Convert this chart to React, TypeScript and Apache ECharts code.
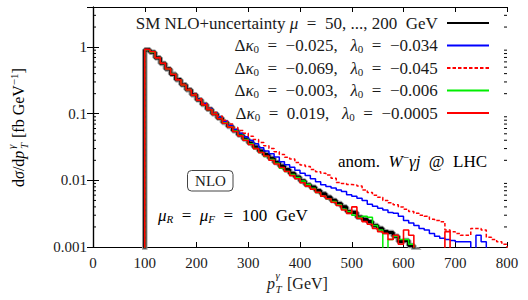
import React, { useEffect, useRef } from "react";
import * as echarts from "echarts";

// ---- data ----
const BIN_START = 100; // GeV, left edge of first bin
const BIN_WIDTH = 10; // GeV
const FLOOR = 0.0001; // below the axis minimum (empty bin)

const xTicks = [0, 100, 200, 300, 400, 500, 600, 700, 800];
const yTickLabels = ["0.001", "0.01", "0.1", "1"];
const yMinorTicks = [
  0.002, 0.003, 0.004, 0.005, 0.006, 0.007, 0.008, 0.009,
  0.02, 0.03, 0.04, 0.05, 0.06, 0.07, 0.08, 0.09,
  0.2, 0.3, 0.4, 0.5, 0.6, 0.7, 0.8, 0.9,
  2, 3,
];

// SM NLO + uncertainty (bins 100..620)
const smValues = [
  0.91, 0.84, 0.69, 0.57, 0.47, 0.39, 0.325, 0.272, 0.229, 0.193,
  0.162, 0.138, 0.117, 0.1, 0.086, 0.074, 0.0646, 0.0556, 0.048, 0.0417,
  0.0363, 0.0316, 0.0275, 0.0243, 0.0214, 0.0186, 0.0164, 0.0145, 0.0127, 0.0112,
  0.0098, 0.0086, 0.0079, 0.007, 0.0063, 0.0056, 0.005, 0.0045, 0.004, 0.0034,
  0.0033, 0.0028, 0.0026, 0.0024, 0.0021, 0.0019, 0.0017, 0.00165, 0.00145, 0.0012,
  0.00125, 0.00105, 0.0009,
];
// Δκ0 = −0.025, λ0 = −0.034 (bins 100..750)
const blueValues = [
  0.91, 0.84, 0.69, 0.57, 0.47, 0.39, 0.325, 0.272, 0.23, 0.195,
  0.165, 0.141, 0.12, 0.103, 0.089, 0.077, 0.066, 0.058, 0.051, 0.045,
  0.04, 0.0355, 0.031, 0.0275, 0.025, 0.0225, 0.019, 0.0172, 0.0158, 0.0142,
  0.0128, 0.0118, 0.0106, 0.0095, 0.0086, 0.0081, 0.0077, 0.0072, 0.0068, 0.0061,
  0.0058, 0.0054, 0.005, 0.0044, 0.0041, 0.0038, 0.0036, 0.0033, 0.0032, 0.0029,
  0.0025, 0.0023, 0.0021, 0.0019, 0.0018, 0.0016, 0.00145, 0.00135, 0.0013, 0.00125,
  0.0012, 0.0012, 0.0012, 0.0005, 0.0015, 0.0012,
];
// Δκ0 = −0.069, λ0 = −0.045 (bins 100..790)
const redDashValues = [
  0.92, 0.85, 0.7, 0.58, 0.48, 0.395, 0.33, 0.277, 0.234, 0.198,
  0.168, 0.143, 0.122, 0.104, 0.092, 0.08, 0.07, 0.062, 0.056, 0.051,
  0.046, 0.041, 0.037, 0.033, 0.03, 0.027, 0.0245, 0.0222, 0.021, 0.0185,
  0.017, 0.0162, 0.0146, 0.0135, 0.0128, 0.012, 0.0108, 0.0093, 0.009, 0.0087,
  0.0085, 0.0082, 0.0072, 0.0066, 0.006, 0.0056, 0.005, 0.0046, 0.0043, 0.004,
  0.0037, 0.0034, 0.0032, 0.003, 0.0029, 0.0026, 0.0025, 0.0024, 0.0018, 0.0017,
  0.0016, 0.0015, 0.0015, 0.0019, 0.0019, 0.0018, 0.0014, 0.0013, 0.0012, 0.0011,
];
// Δκ0 = −0.003, λ0 = −0.006 (bins 100..620)
const greenValues = [
  0.91, 0.84, 0.69, 0.57, 0.47, 0.39, 0.325, 0.27, 0.228, 0.192,
  0.161, 0.137, 0.116, 0.099, 0.085, 0.073, 0.064, 0.055, 0.0475, 0.0412,
  0.0355, 0.03, 0.0262, 0.0228, 0.0205, 0.018, 0.0152, 0.0136, 0.0123, 0.011,
  0.0098, 0.0087, 0.0076, 0.0066, 0.0058, 0.0053, 0.0048, 0.0043, 0.0037, 0.0034,
  0.003, 0.0028, 0.0029, 0.0028, 0.0021, 0.0018, 0.0009, 0.0013, 0.00145, 0.0013,
  0.0013, 0.0011, 0.0009,
];
// Δκ0 = 0.019, λ0 = −0.0005 (bins 100..690)
const redValues = [
  0.92, 0.85, 0.69, 0.57, 0.47, 0.39, 0.322, 0.27, 0.227, 0.19,
  0.16, 0.136, 0.115, 0.098, 0.084, 0.072, 0.063, 0.054, 0.0465, 0.04,
  0.0345, 0.03, 0.0262, 0.0232, 0.02, 0.0176, 0.0156, 0.0136, 0.0118, 0.0106,
  0.0092, 0.0082, 0.0074, 0.0066, 0.0058, 0.0053, 0.0047, 0.0042, 0.0036, 0.0032,
  0.004, 0.0027, 0.0024, 0.0022, 0.0019, 0.0017, 0.0016, 0.0013, 0.0015, 0.0011,
  0.0018, 0.0015, 0.0009, 0.0005, 0.0005, 0.0005, 0.0005, 0.0005, 0.0017, 0.0009,
];

const NAME_SM = "SM NLO+uncertainty μ = 50, ..., 200 GeV";
const NAME_B = "Δκ0 = −0.025,  λ0 = −0.034";
const NAME_RD = "Δκ0 = −0.069,  λ0 = −0.045";
const NAME_G = "Δκ0 = −0.003,  λ0 = −0.006";
const NAME_R = "Δκ0 = 0.019,  λ0 = −0.0005";

const S = "\u00A0";
const S2 = S + S;
const S3 = S + S + S;
const legendRich: Record<string, string> = {
  [NAME_SM]: `{r|SM NLO+uncertainty${S}}{i|μ}{r|${S2}=${S2}50,${S}...,${S}200${S2}GeV${S}}`,
  [NAME_B]: `{r|Δ}{i|κ}{s|0}{r|${S2}=${S2}−0.025,${S3}}{i|λ}{s|0}{r|${S2}=${S2}−0.034${S}}`,
  [NAME_RD]: `{r|Δ}{i|κ}{s|0}{r|${S2}=${S2}−0.069,${S3}}{i|λ}{s|0}{r|${S2}=${S2}−0.045${S}}`,
  [NAME_G]: `{r|Δ}{i|κ}{s|0}{r|${S2}=${S2}−0.003,${S3}}{i|λ}{s|0}{r|${S2}=${S2}−0.006${S}}`,
  [NAME_R]: `{r|Δ}{i|κ}{s|0}{r|${S2}=${S2}0.019,${S3}}{i|λ}{s|0}{r|${S2}=${S2}−0.0005${S}}`,
};

const FONT = "Liberation Serif, DejaVu Serif, serif";
const TXT = "#1a1a1a";
const FS = 17; // legend / annotation text
const FS_TITLE = 16;
const FS_SMALL = 11;
const FS_TICK = 15;
const LH = 22;

function steps(values: number[]) {
  const pts: number[][] = [[BIN_START, FLOOR]];
  values.forEach((v, i) => pts.push([BIN_START + i * BIN_WIDTH, v]));
  pts.push([BIN_START + values.length * BIN_WIDTH, FLOOR]);
  return pts;
}

function richStyles(lh: number, fs: number = FS) {
  return {
    r: { fontFamily: FONT, fontSize: fs, color: TXT, lineHeight: lh },
    i: { fontFamily: FONT, fontSize: fs, color: TXT, fontStyle: "italic", lineHeight: lh },
    s: { fontFamily: FONT, fontSize: FS_SMALL, color: TXT, lineHeight: lh, padding: [7, 0, 0, 0] },
    si: { fontFamily: FONT, fontSize: FS_SMALL, color: TXT, fontStyle: "italic", lineHeight: lh, padding: [7, 0, 0, 0] },
    sup: { fontFamily: FONT, fontSize: FS_SMALL, color: TXT, lineHeight: lh, padding: [0, 0, 8, 0] },
  };
}

function small(text: string, x: number, y: number) {
  return {
    type: "text", x, y,
    style: { text, fontFamily: FONT, fontStyle: "italic", fontSize: FS_SMALL, fill: TXT, align: "left", verticalAlign: "middle" },
  };
}

function line(name: string, values: number[], color: string, width: number, type: any = "solid", z = 2) {
  return {
    type: "line",
    name,
    data: steps(values),
    step: "end",
    symbol: "none",
    showSymbol: false,
    clip: true,
    z,
    lineStyle: { color, width, type },
    itemStyle: { color },
    emphasis: { disabled: true },
  };
}

export default function App() {
  const ref = useRef<HTMLDivElement>(null);
  useEffect(() => {
    if (!ref.current) return;
    const chart = echarts.init(ref.current, undefined, { renderer: "svg" });
    const axisCommon = {
      axisLine: { show: true, lineStyle: { color: "#000", width: 1.2 } },
      axisTick: { show: true, inside: true, length: 5, lineStyle: { color: "#000", width: 1 } },
      splitLine: { show: false },
    };
    chart.setOption({
      animation: false,
      backgroundColor: "#fff",
      grid: { left: 93, right: 21, top: 7, bottom: 53, containLabel: false },
      xAxis: [
        {
          type: "value", min: 0, max: 800, interval: 100, position: "bottom",
          ...axisCommon,
          axisLabel: {
            show: true, margin: 8, color: TXT, fontFamily: FONT, fontSize: FS_TICK,
            formatter: (v: number) => (xTicks.includes(v) ? String(v) : ""),
          },
        },
        {
          type: "value", min: 0, max: 800, interval: 100, position: "top",
          ...axisCommon, axisLabel: { show: false },
        },
      ],
      yAxis: [
        {
          type: "log", logBase: 10, min: 0.001, max: 4, position: "left",
          ...axisCommon,
          axisTick: { show: true, inside: true, length: 6, lineStyle: { color: "#000", width: 1 } },
          axisLabel: {
            show: true, margin: 6, color: TXT, fontFamily: FONT, fontSize: FS_TICK, showMaxLabel: false,
            formatter: (v: number) => {
              const lg = Math.log10(v);
              const idx = Math.round(lg) + 3;
              return Math.abs(lg - Math.round(lg)) < 1e-6 ? yTickLabels[idx] ?? "" : "";
            },
          },
        },
        {
          type: "log", logBase: 10, min: 0.001, max: 4, position: "right",
          ...axisCommon,
          axisTick: { show: true, inside: true, length: 6, lineStyle: { color: "#000", width: 1 } },
          axisLabel: { show: false },
        },
      ],
      legend: {
        orient: "vertical",
        right: 38,
        top: 12,
        padding: 0,
        align: "right",
        itemWidth: 42,
        itemHeight: 14,
        itemGap: 0.5,
        selectedMode: false,
        data: [NAME_SM, NAME_B, NAME_RD, NAME_G, NAME_R],
        formatter: (name: string) => legendRich[name] ?? name,
        textStyle: { fontFamily: FONT, fontSize: FS, color: TXT, lineHeight: LH, rich: richStyles(LH) },
        itemStyle: { opacity: 0 },
      },
      graphic: [
        {
          type: "rect", shape: { x: 187.5, y: 170.5, width: 45.5, height: 20.5, r: 4 },
          style: { fill: "#fff", stroke: "#444", lineWidth: 1 }, z: 50,
        },
        {
          type: "text", x: 210.5, y: 181, z: 51,
          style: { text: "NLO", fontFamily: FONT, fontSize: 15, fill: TXT, align: "center", verticalAlign: "middle" },
        },
        {
          type: "text", x: 487, y: 161, z: 51,
          style: {
            text: `{r|anom.${S2}}{i|W}{sup|−}{i|γj}{r|${S2}@${S2}LHC}`,
            rich: richStyles(18), align: "right", verticalAlign: "middle",
          },
        },
        {
          type: "text", x: 158, y: 215, z: 51,
          style: {
            text: `{i|μ}{si|R}{r|${S2}=${S2}}{i|μ}{si|F}{r|${S2}=${S2}100${S2}GeV}`,
            rich: richStyles(18), align: "left", verticalAlign: "middle",
          },
        },
        // x-axis title: p_T^γ [GeV]
        {
          type: "group", z: 51,
          children: [
            {
              type: "text", x: 267, y: 283,
              style: { text: "p", fontFamily: FONT, fontStyle: "italic", fontSize: FS_TITLE, fill: TXT, align: "left", verticalAlign: "middle" },
            },
            small("T", 275.5, 289),
            small("γ", 275.5, 275),
            {
              type: "text", x: 287, y: 283,
              style: { text: "[GeV]", fontFamily: FONT, fontSize: FS_TITLE, fill: TXT, align: "left", verticalAlign: "middle" },
            },
          ],
        },
        // y-axis title: dσ/dp_T^γ [fb GeV^-1]
        {
          type: "group", x: 18, y: 112, rotation: Math.PI / 2, z: 51,
          children: [
            {
              type: "text", x: -75, y: 0,
              style: {
                text: "{r|d}{i|σ}{r|/d}{i|p}",
                rich: richStyles(16, FS_TITLE), align: "left", verticalAlign: "middle",
              },
            },
            small("T", -37, 5.5),
            small("γ", -37, -7.5),
            {
              type: "text", x: -26, y: 0,
              style: {
                text: `{r|[fb${S}GeV}{sup|−1}{r|]}`,
                rich: richStyles(18, FS_TITLE), align: "left", verticalAlign: "middle",
              },
            },
          ],
        },
      ],
      series: [
        {
          type: "custom",
          name: "minorTicks",
          silent: true,
          xAxisIndex: 0,
          yAxisIndex: 0,
          encode: { x: 0, y: 1 },
          data: yMinorTicks.map((v) => [0, v]),
          renderItem: (params: any, api: any) => {
            const y = api.coord([0, api.value(1)])[1];
            const cs = params.coordSys;
            return {
              type: "group",
              children: [
                { type: "line", shape: { x1: cs.x, y1: y, x2: cs.x + 3, y2: y }, style: { stroke: "#000", lineWidth: 1 } },
                { type: "line", shape: { x1: cs.x + cs.width - 3, y1: y, x2: cs.x + cs.width, y2: y }, style: { stroke: "#000", lineWidth: 1 } },
              ],
            };
          },
        },
        { ...line("SM band", smValues, "#9a9a9a", 5.5, "solid", 1) },
        line(NAME_SM, smValues, "#000", 3.2, "solid", 2),
        line(NAME_B, blueValues, "#0000ff", 1.5, "solid", 3),
        line(NAME_RD, redDashValues, "#ff0000", 1.5, [3.5, 2], 4),
        line(NAME_G, greenValues, "#00ee00", 1.5, "solid", 5),
        line(NAME_R, redValues, "#ff0000", 1.6, "solid", 6),
      ],
    });
    return () => chart.dispose();
  }, []);
  return <div ref={ref} style={{ position: "fixed", left: 0, top: 0, width: 528, height: 300 }} />;
}
